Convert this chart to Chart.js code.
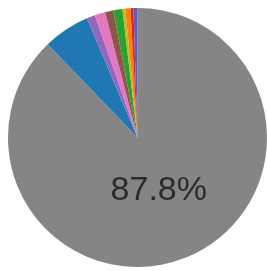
<!DOCTYPE html>
<html>
<head>
<meta charset="utf-8">
<script src="https://cdn.jsdelivr.net/npm/chart.js@4/dist/chart.umd.min.js"></script>
<style>
  html, body { margin: 0; padding: 0; background: #fff; }
  #wrap { width: 267px; height: 271px; }
</style>
</head>
<body>
<div id="wrap"><canvas id="chart" width="267" height="271"></canvas></div>
<script>
// 時計回り、12時の位置から
const labels = ['gray', 'blue', 'purple', 'pink', 'brown', 'green', 'olive', 'orange', 'red', 'blue2'];
const values = [87.8, 5.8, 1.06, 1.3, 1.03, 1.14, 0.36, 0.64, 0.36, 0.5];
const colors = ['#858585', '#1f77b4', '#9467bd', '#e377c2', '#8c564b', '#2ca02c', '#bcbd22', '#ff7f0e', '#d62728', '#5b5fb8'];
const shownLabel = '87.8%';

// 大きい扇形の中に割合を描く
const sliceLabel = {
  id: 'sliceLabel',
  afterDatasetsDraw(chart) {
    const arc = chart.getDatasetMeta(0).data[0];
    if (!arc) return;
    const { x, y, startAngle, endAngle, outerRadius } = arc.getProps(['x', 'y', 'startAngle', 'endAngle', 'outerRadius'], true);
    const mid = (startAngle + endAngle) / 2;
    const r = outerRadius * 0.44;
    const ctx = chart.ctx;
    ctx.save();
    ctx.font = '34px "Liberation Sans", Arial, sans-serif';
    ctx.fillStyle = '#2b2b2b';
    ctx.textAlign = 'center';
    ctx.textBaseline = 'middle';
    ctx.fillText(shownLabel, x + Math.cos(mid) * r, y + Math.sin(mid) * r);
    ctx.restore();
  }
};

new Chart(document.getElementById('chart'), {
  type: 'pie',
  data: {
    labels,
    datasets: [{
      data: values,
      backgroundColor: colors,
      borderWidth: 0,
    }]
  },
  options: {
    responsive: false,
    animation: false,
    layout: { padding: { left: 8, right: 0, top: 8, bottom: 4 } },
    plugins: {
      legend: { display: false },
      tooltip: { enabled: false }
    }
  },
  plugins: [sliceLabel]
});
</script>
</body>
</html>
